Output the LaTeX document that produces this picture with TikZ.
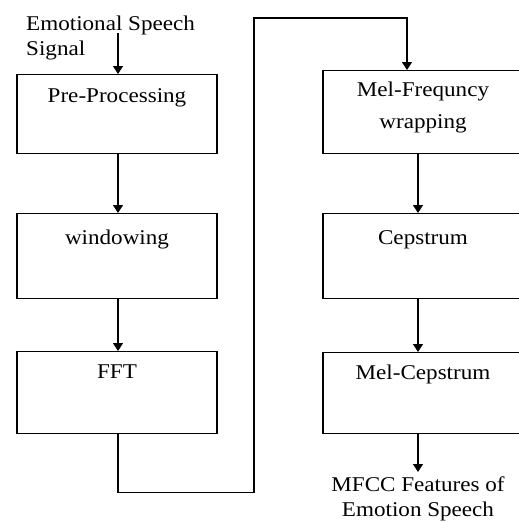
\documentclass[tikz,border=0pt]{standalone}
\usepackage{fontspec}
\setmainfont{Liberation Serif}[FakeStretch=1.1]
\usetikzlibrary{arrows.meta}
\begin{document}
\begin{tikzpicture}[x=1pt,y=-1pt,
  stepbox/.style={draw, line width=1.2pt, minimum width=200pt, anchor=north, inner sep=0pt},
  boxtext/.style={anchor=north, inner sep=0pt, align=center, font=\fontsize{21}{25}\selectfont},
  freetext/.style={inner sep=0pt, font=\fontsize{21}{24.5}\selectfont},
  arr/.style={line width=1.2pt, -{Triangle[width=10pt,length=8pt]}}]
\useasboundingbox (0,0) rectangle (519,522);

% left column
\node[stepbox, minimum height=79pt, label={[boxtext, yshift=-14pt]north:Pre-Processing}] (pre) at (117,74) {};
\node[stepbox, minimum height=85pt, label={[boxtext, yshift=-17pt]north:windowing}] (win) at (117,213) {};
\node[stepbox, minimum height=82pt, label={[boxtext, yshift=-14pt]north:FFT}] (fft) at (117,351) {};

% right column
\node[stepbox, minimum height=83pt, label={[boxtext, yshift=-12pt]north:Mel-Frequncy\\[7pt]wrapping}] (mel) at (423,70) {};
\node[stepbox, minimum height=85pt, label={[boxtext, yshift=-17pt]north:Cepstrum}] (cep) at (423,213) {};
\node[stepbox, minimum height=81pt, label={[boxtext, yshift=-13pt]north:Mel-Cepstrum}] (melc) at (423,352) {};

% input and output texts
\node[freetext, anchor=north west, align=left] (src) at (26,16) {Emotional Speech\\Signal};
\coordinate (srcend) at (118,33);
\node[freetext, anchor=north, align=center, inner ysep=5pt] (out) at (418,472) {MFCC Features of\\Emotion Speech};

% connectors
\draw[arr] (srcend) -- ([xshift=1pt]pre.north);
\draw[arr] ([xshift=1pt]pre.south) -- ([xshift=1pt]win.north);
\draw[arr] ([xshift=1pt]win.south) -- ([xshift=1pt]fft.north);
\coordinate (c3) at (254,18);
\draw[arr] ([xshift=1pt]fft.south) -- ++(0,58) -| (c3) -| ([xshift=-16pt]mel.north);
\draw[arr] ([xshift=-5pt]mel.south) -- ([xshift=-5pt]cep.north);
\draw[arr] ([xshift=-5pt]cep.south) -- ([xshift=-5pt]melc.north);
\draw[arr] ([xshift=-5pt]melc.south) -- (out.north);
\end{tikzpicture}
\end{document}
